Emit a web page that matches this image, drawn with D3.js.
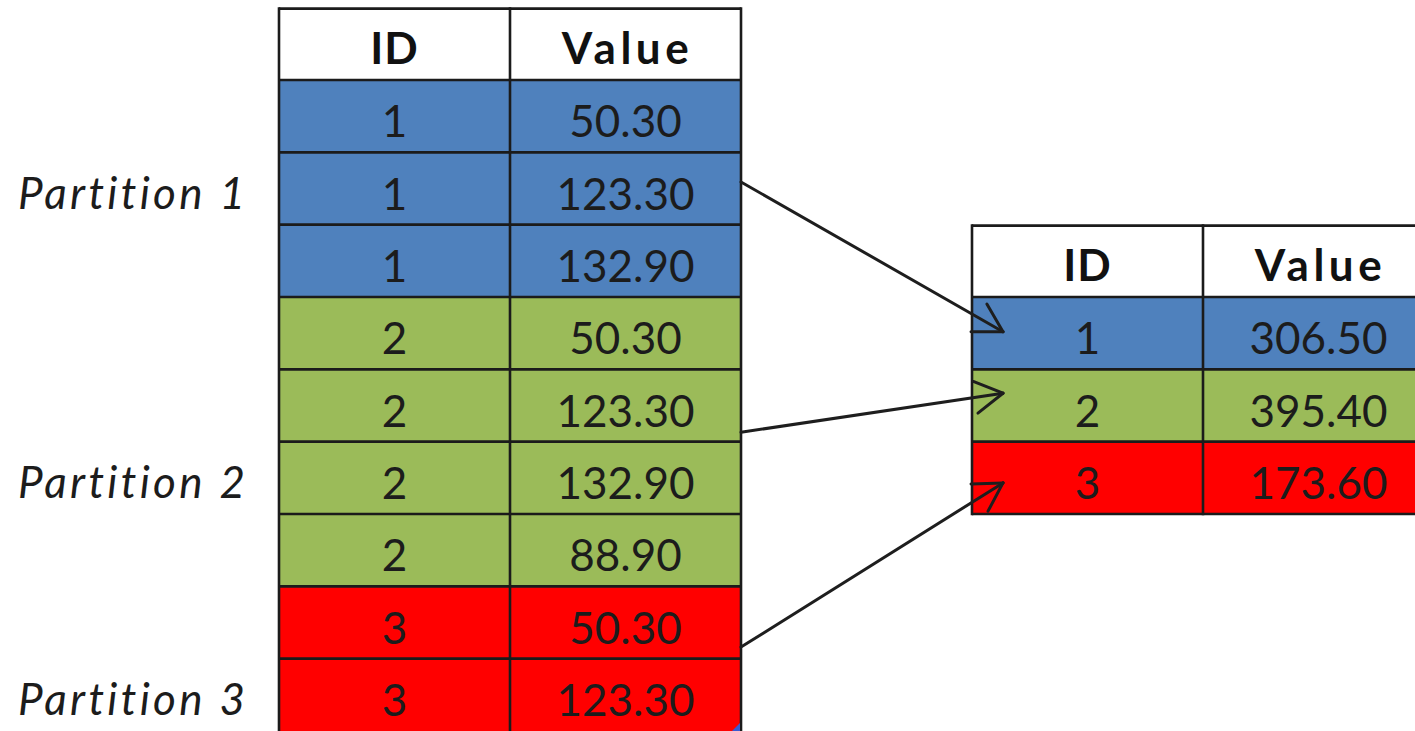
<!DOCTYPE html>
<html>
<head>
<meta charset="utf-8">
<script src="https://cdn.jsdelivr.net/npm/d3@7"></script>
<style>
  html, body { margin: 0; padding: 0; background: #ffffff; overflow: hidden; }
  svg { display: block; }
</style>
</head>
<body>
<svg id="chart" width="1415" height="731"></svg>
<script>
// ---- data ----
const headers = ["ID", "Value"];
const leftIDs = [1, 1, 1, 2, 2, 2, 2, 3, 3];
const leftValues = [50.30, 123.30, 132.90, 50.30, 123.30, 132.90, 88.90, 50.30, 123.30];
const rightIDs = [1, 2, 3];
const rightValues = [306.50, 395.40, 173.60];
const partitionLabels = ["Partition 1", "Partition 2", "Partition 3"];
const partitionLabelRows = [1, 5, 8];
// arrows: start row position (left table), end row position (shared row scale)
const arrowFromRow = [1.41, 4.87, 7.84];
const arrowToRow = [3.48, 4.33, 5.57];
const groupColors = { 1: "#4F81BD", 2: "#9BBB59", 3: "#FF0000" };

// ---- layout ----
const svg = d3.select("#chart");
const W = 1415, H = 731;
const y = d3.scaleLinear().domain([0, 9]).range([80, 731]);
const rowH = y(1) - y(0);
const xL = d3.scaleBand().domain(headers).range([279, 741]);
const xR = d3.scaleBand().domain(headers).range([972, 1434]);
const rightOffset = 3; // right table data rows aligned with left row index 3
const fmt = d3.format(".2f");
const borderColor = "#1b1b1b";
const textColor = "#1c1c1c";
const cellFont = "Lato, 'Open Sans', sans-serif";

function drawTable(g, xs, ids, values, startRow, headerTop) {
  const rows = ids.map((id, i) => ({ id, value: values[i], r: startRow + i }));
  const left = xs.range()[0], right = xs.range()[1];
  g.append("rect")
    .attr("x", left).attr("y", headerTop)
    .attr("width", right - left).attr("height", y(startRow) - headerTop)
    .attr("fill", "#ffffff");
  rows.forEach(d => {
    headers.forEach(h => {
      g.append("rect")
        .attr("x", xs(h)).attr("y", y(d.r))
        .attr("width", xs.bandwidth()).attr("height", rowH)
        .attr("fill", groupColors[d.id]);
    });
  });
  headers.forEach(h => {
    g.append("text")
      .attr("x", xs(h) + xs.bandwidth() / 2 + (h === "Value" ? 2 : 0))
      .attr("y", y(startRow) - 16)
      .attr("text-anchor", "middle")
      .attr("font-family", cellFont)
      .attr("font-weight", "bold")
      .attr("font-size", 44)
      .attr("letter-spacing", h === "Value" ? 4.5 : 1)
      .attr("fill", "#111")
      .text(h);
  });
  rows.forEach(d => {
    g.append("text")
      .attr("x", xs("ID") + xs.bandwidth() / 2)
      .attr("y", y(d.r + 1) - 15)
      .attr("text-anchor", "middle")
      .attr("font-family", cellFont)
      .attr("font-size", 44)
      .attr("fill", textColor)
      .text(d.id);
    g.append("text")
      .attr("x", xs("Value") + xs.bandwidth() / 2)
      .attr("y", y(d.r + 1) - 15)
      .attr("text-anchor", "middle")
      .attr("font-family", cellFont)
      .attr("font-size", 44)
      .attr("fill", textColor)
      .text(fmt(d.value));
  });
  const bottom = y(startRow + rows.length);
  const hLines = [headerTop, y(startRow)].concat(rows.slice(1).map(d => y(d.r)));
  if (bottom < H - 2) hLines.push(bottom);
  hLines.forEach(yy => {
    g.append("line")
      .attr("x1", left).attr("x2", right)
      .attr("y1", yy).attr("y2", yy)
      .attr("stroke", borderColor).attr("stroke-width", 2.6);
  });
  [left, xs("Value"), right].forEach(xx => {
    g.append("line")
      .attr("x1", xx).attr("x2", xx)
      .attr("y1", headerTop - 1.3).attr("y2", bottom + 1.3)
      .attr("stroke", borderColor).attr("stroke-width", 2.6);
  });
}

const gL = svg.append("g");
drawTable(gL, xL, leftIDs, leftValues, 0, y(-1) + 1);
const gR = svg.append("g");
drawTable(gR, xR, rightIDs, rightValues, rightOffset, y(rightOffset - 1) + 1);

// fill-handle mark at bottom-right of left table
svg.append("path")
  .attr("d", `M${xL.range()[1] - 1},${H - 8} L${xL.range()[1] - 1},${H} L${xL.range()[1] - 9},${H} Z`)
  .attr("fill", "#3b5bd0");

// partition labels
svg.selectAll("text.plabel")
  .data(partitionLabels)
  .enter().append("text")
  .attr("class", "plabel")
  .attr("x", 18)
  .attr("y", (d, i) => y(partitionLabelRows[i] + 1) - 16)
  .attr("font-family", cellFont)
  .attr("font-style", "italic")
  .attr("font-size", 44)
  .attr("letter-spacing", 3.3)
  .attr("fill", "#1c1c1c")
  .text(d => d);

// arrows
const arrowInset = 31;
const armLen = 32, armAngle = 30 * Math.PI / 180;
arrowFromRow.forEach((fr, i) => {
  const x1 = xL.range()[1], y1 = y(fr);
  const x2 = xR.range()[0] + arrowInset, y2 = y(arrowToRow[i]);
  const ang = Math.atan2(y2 - y1, x2 - x1) + Math.PI;
  const g = svg.append("g").attr("stroke", "#1e1e1e").attr("stroke-width", 3)
    .attr("fill", "none").attr("stroke-linecap", "round");
  g.append("line").attr("x1", x1).attr("y1", y1).attr("x2", x2).attr("y2", y2);
  [-armAngle, armAngle].forEach(a => {
    g.append("line")
      .attr("x1", x2).attr("y1", y2)
      .attr("x2", x2 + armLen * Math.cos(ang + a))
      .attr("y2", y2 + armLen * Math.sin(ang + a));
  });
});
</script>
</body>
</html>
